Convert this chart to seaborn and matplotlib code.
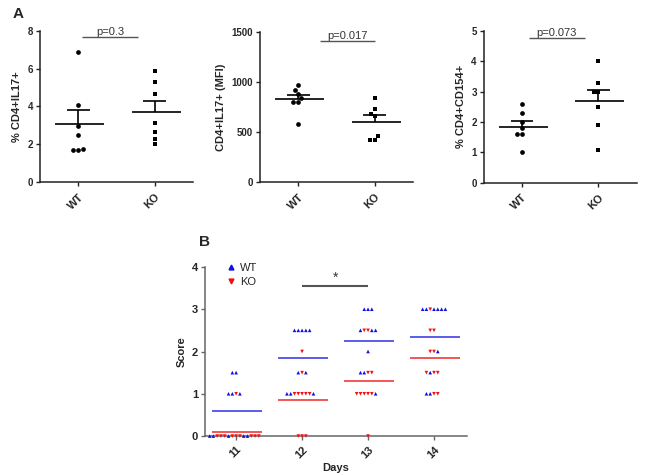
import numpy as np
import pandas as pd
import seaborn as sns
import matplotlib.pyplot as plt
from matplotlib.lines import Line2D
from matplotlib.markers import MarkerStyle

sns.set_theme(style="ticks")
plt.rcParams["font.family"] = ["Liberation Sans", "DejaVu Sans"]

# -----------------------------------------------------------------
# Data
# -----------------------------------------------------------------
groups = ["WT", "KO"]

il17_wt = [6.9, 4.05, 2.97, 2.48, 1.77, 1.68, 1.68]
il17_ko = [5.88, 5.27, 4.67, 3.10, 2.67, 2.28, 2.0]

mfi_wt = [970, 915, 880, 835, 800, 800, 580]
mfi_ko = [837, 730, 683, 657, 457, 423, 423]

cd154_wt = [2.6, 2.3, 2.0, 1.8, 1.6, 1.6, 1.0]
cd154_ko = [4.0, 3.3, 3.0, 3.0, 2.48, 1.9, 1.08]

p_labels = ["p=0.3", "p=0.017", "p=0.073"]
y_labels = ["% CD4+IL17+", "CD4+IL17+ (MFI)", "% CD4+CD154+"]
y_ticks = [[0, 2, 4, 6, 8], [0, 500, 1000, 1500], [0, 1, 2, 3, 4, 5]]

days = ["11", "12", "13", "14"]
wt_day11 = [1.5, 1.5, 1.0, 1.0, 1.0, 0, 0, 0, 0, 0]
ko_day11 = [1.0, 0, 0, 0, 0, 0, 0, 0, 0, 0]
wt_day12 = [2.5, 2.5, 2.5, 2.5, 2.5, 1.5, 1.5, 1.0, 1.0, 1.0]
ko_day12 = [2.0, 1.5, 1.0, 1.0, 1.0, 1.0, 1.0, 0, 0, 0]
wt_day13 = [3.0, 3.0, 3.0, 2.5, 2.5, 2.5, 2.0, 1.5, 1.5, 1.0]
ko_day13 = [2.5, 2.5, 1.5, 1.5, 1.0, 1.0, 1.0, 1.0, 1.0, 0]
wt_day14 = [3.0, 3.0, 3.0, 3.0, 3.0, 3.0, 2.0, 1.5, 1.0, 1.0]
ko_day14 = [3.0, 2.5, 2.5, 2.0, 2.0, 1.5, 1.5, 1.5, 1.0, 1.0]

# -----------------------------------------------------------------
# Layout / style
# -----------------------------------------------------------------
fig = plt.figure(figsize=(6.45, 4.75), dpi=100)

a_rects = [(0.062, 0.617, 0.237, 0.318),
           (0.403, 0.617, 0.237, 0.316),
           (0.750, 0.615, 0.237, 0.320)]
p_spans = [(0.05, 0.78), (0.28, 1.01), (0.09, 0.82)]
p_heights = [7.65, 1410, 4.76]

blue = "#1010e0"
red = "#f01010"


def style_axis(ax, spine_color="#222222", xpad=4, ysize=7, xsize=8):
    sns.despine(ax=ax)
    for s in ["left", "bottom"]:
        ax.spines[s].set_linewidth(1.1)
        ax.spines[s].set_color(spine_color)
    ax.tick_params(axis="both", length=3, width=1.0, color=spine_color, pad=2)
    ax.tick_params(axis="x", pad=xpad)
    for lab in ax.get_yticklabels():
        lab.set_fontweight("bold")
        lab.set_fontsize(ysize)
    for lab in ax.get_xticklabels():
        lab.set_fontweight("bold")
        lab.set_fontsize(xsize)
        lab.set_rotation(45)
        lab.set_ha("right")
        lab.set_rotation_mode("anchor")


# -----------------------------------------------------------------
# Panel A: three scatter plots with mean +/- SEM
# -----------------------------------------------------------------
panel_a = [(il17_wt, il17_ko), (mfi_wt, mfi_ko), (cd154_wt, cd154_ko)]
for i, (wt, ko) in enumerate(panel_a):
    ax = fig.add_axes(a_rects[i])
    df = pd.DataFrame({"group": ["WT"] * len(wt) + ["KO"] * len(ko),
                       "value": wt + ko})
    sns.swarmplot(data=df[df.group == "WT"], x="group", y="value", order=groups,
                  marker="o", color="black", size=3.4, ax=ax, clip_on=False)
    sns.swarmplot(data=df[df.group == "KO"], x="group", y="value", order=groups,
                  marker="s", color="black", size=3.2, ax=ax, clip_on=False)

    stats = df.groupby("group")["value"].agg(["mean", "sem"]).reindex(groups)
    for j, g in enumerate(groups):
        m, e = stats.loc[g, "mean"], stats.loc[g, "sem"]
        ax.hlines(m, j - 0.3, j + 0.34, color="black", lw=1.2)
        ax.vlines(j, m, m + e, color="black", lw=1.2)
        ax.hlines(m + e, j - 0.15, j + 0.15, color="black", lw=1.2)

    x0, x1 = p_spans[i]
    ax.hlines(p_heights[i], x0, x1, color="#555555", lw=1.0, clip_on=False)
    ax.text((x0 + x1) / 2, p_heights[i], p_labels[i], ha="center", va="bottom",
            fontsize=8, color="#333333")

    ax.set_xlim(-0.5, 1.5)
    ax.set_ylim(0, y_ticks[i][-1])
    ax.set_yticks(y_ticks[i])
    ax.set_xlabel("")
    ax.set_ylabel(y_labels[i], fontsize=8, fontweight="bold")
    style_axis(ax)

fig.text(0.019, 0.985, "A", fontsize=11, fontweight="bold", va="top")

# -----------------------------------------------------------------
# Panel B: clinical score over days
# -----------------------------------------------------------------
wt_days = [wt_day11, wt_day12, wt_day13, wt_day14]
ko_days = [ko_day11, ko_day12, ko_day13, ko_day14]
rows = []
for d, wt, ko in zip(days, wt_days, ko_days):
    for w, k in zip(wt, ko):
        rows.append((d, "WT", w))
        rows.append((d, "KO", k))
df_b = pd.DataFrame(rows, columns=["day", "group", "score"])

axb = fig.add_axes((0.318, 0.082, 0.406, 0.356))
sns.swarmplot(data=df_b, x="day", y="score", hue="group", order=days,
              palette={"WT": blue, "KO": red}, marker="^", size=2.6,
              legend=False, ax=axb, clip_on=False)

# KO points get downward triangles
m_up, m_down = MarkerStyle("^"), MarkerStyle("v")
up = m_up.get_path().transformed(m_up.get_transform())
down = m_down.get_path().transformed(m_down.get_transform())
for coll in axb.collections:
    fc = coll.get_facecolors()
    coll.set_paths([down if c[0] > c[2] else up for c in fc])

means_b = df_b.groupby(["day", "group"])["score"].mean()
for j, d in enumerate(days):
    axb.hlines(means_b[(d, "WT")], j - 0.36, j + 0.4, color="#4040e8", lw=1.2)
    axb.hlines(means_b[(d, "KO")], j - 0.36, j + 0.4, color="#f03838", lw=1.2)

axb.hlines(3.55, 1, 2, color="#555555", lw=1.5)
axb.text(1.5, 3.57, "*", ha="center", va="bottom", fontsize=10, color="#333333")

handles = [Line2D([], [], marker="^", color=blue, ls="none", markersize=3.5),
           Line2D([], [], marker="v", color=red, ls="none", markersize=3.5)]
axb.legend(handles, groups, loc="upper left", bbox_to_anchor=(0.06, 1.05),
           frameon=False, fontsize=8, handletextpad=0.3, labelspacing=0.35,
           handlelength=1.0, borderaxespad=0)

axb.set_xlim(-0.47, 3.5)
axb.set_ylim(0, 4)
axb.set_yticks([0, 1, 2, 3, 4])
axb.set_xlabel("Days", fontsize=8, fontweight="bold", labelpad=2)
axb.set_ylabel("Score", fontsize=8, fontweight="bold")
style_axis(axb, spine_color="#666666", xpad=3, ysize=8, xsize=8)

fig.text(0.309, 0.505, "B", fontsize=11, fontweight="bold", va="top")

fig.savefig("out.png", dpi=100)
